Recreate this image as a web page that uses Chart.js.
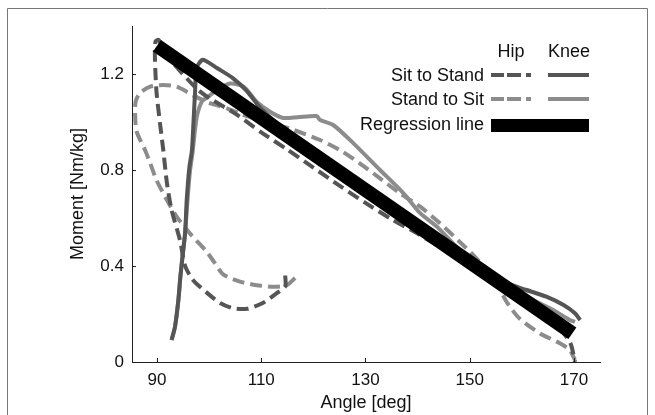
<!DOCTYPE html>
<html>
<head>
<meta charset="utf-8">
<script src="https://cdn.jsdelivr.net/npm/chart.js@4.4.1/dist/chart.umd.min.js"></script>
<style>
  html, body { margin: 0; padding: 0; background: #fff; }
  #wrap { position: relative; width: 655px; height: 415px; }
</style>
</head>
<body>
<div id="wrap"><canvas id="c" width="655" height="415"></canvas></div>
<script>
// ---- Data ----
const xTickValues = [90, 110, 130, 150, 170];
const yTickValues = [0, 0.4, 0.8, 1.2];
const yTickLabels = ["0", "0.4", "0.8", "1.2"];

const legendHeaders = ["Hip", "Knee"];
const legendRows = ["Sit to Stand", "Stand to Sit", "Regression line"];

// Hip, Sit to Stand (dark dashed)
const hipSitToStandAngle = [114.6, 114.6, 113.0, 110.3, 107.3, 104.6, 102.1, 99.6, 96.9, 95.4, 94.4, 92.8, 91.9, 91.2, 90.6, 89.9, 89.6, 89.7, 90.3, 91.2, 93.1, 96.0, 97.9, 100, 105, 110, 115, 120, 125, 130, 135, 140, 145, 150, 155, 160, 164, 167, 169.3, 170.2];
const hipSitToStandMoment = [0.36, 0.315, 0.287, 0.246, 0.222, 0.224, 0.246, 0.288, 0.342, 0.40, 0.508, 0.633, 0.746, 0.883, 0.99, 1.126, 1.267, 1.335, 1.342, 1.30, 1.246, 1.175, 1.133, 1.10, 1.035, 0.957, 0.885, 0.81, 0.735, 0.663, 0.595, 0.535, 0.47, 0.41, 0.335, 0.262, 0.2, 0.145, 0.08, 0.0];

// Knee, Sit to Stand (dark solid)
const kneeSitToStandAngle = [92.8, 93.45, 94.1, 94.5, 95.0, 95.4, 95.7, 96.2, 96.7, 97.0, 97.3, 97.6, 98.6, 99.3, 101.5, 104.6, 107.2, 110, 115, 120, 130, 140, 150, 153, 156.4, 160.9, 164.7, 168, 170.2, 171.2];
const kneeSitToStandMoment = [0.092, 0.147, 0.258, 0.36, 0.46, 0.54, 0.675, 0.81, 0.883, 1.0, 1.126, 1.225, 1.258, 1.255, 1.225, 1.182, 1.13, 1.055, 0.96, 0.88, 0.725, 0.575, 0.43, 0.385, 0.335, 0.30, 0.272, 0.2375, 0.203, 0.175];

// Hip, Stand to Sit (light dashed)
const hipStandToSitAngle = [116.5, 114.9, 112.3, 109.1, 105.9, 102.7, 101.0, 99.5, 96.3, 93.8, 91.9, 89.9, 88.7, 87.7, 86.1, 85.8, 85.9, 86.7, 88.7, 91.2, 93.8, 97.0, 100, 103.4, 106.5, 109.8, 113, 116.2, 121.3, 125.1, 128.9, 132.8, 136.6, 140.5, 144.3, 148.1, 150.7, 154.5, 157.1, 159.6, 163.5, 167.3, 169.2, 170.2];
const hipStandToSitMoment = [0.35, 0.32, 0.314, 0.32, 0.335, 0.365, 0.415, 0.46, 0.536, 0.605, 0.675, 0.758, 0.828, 0.883, 0.96, 1.03, 1.085, 1.12, 1.147, 1.154, 1.147, 1.11, 1.08, 1.057, 1.03, 1.008, 0.99, 0.967, 0.925, 0.883, 0.828, 0.765, 0.703, 0.647, 0.578, 0.50, 0.445, 0.355, 0.25, 0.18, 0.119, 0.078, 0.05, 0.008];

// Knee, Stand to Sit (light solid)
const kneeStandToSitAngle = [92.8, 93.45, 94.1, 94.5, 95.0, 95.4, 95.8, 96.3, 96.8, 97.6, 98.6, 99.8, 101.5, 104, 106.6, 109.1, 111.7, 114.2, 117, 120.6, 121.3, 123.8, 127.7, 132.8, 137.3, 140.5, 143.7, 147, 150, 154.5, 160.9, 166, 169.2, 170.2];
const kneeStandToSitMoment = [0.092, 0.147, 0.258, 0.36, 0.46, 0.54, 0.66, 0.79, 0.87, 1.017, 1.085, 1.105, 1.133, 1.16, 1.147, 1.085, 1.043, 1.017, 1.02, 1.025, 1.008, 0.9875, 0.911, 0.80, 0.703, 0.62, 0.564, 0.49, 0.425, 0.349, 0.272, 0.217, 0.175, 0.167];

// Regression line
const regressionAngle = [90, 169.7];
const regressionMoment = [1.318, 0.12];

// ---- Styles ----
const DARK = '#555555';
const LIGHT = '#8c8c8c';
const AXIS = '#222222';
const FONT = "'Liberation Sans', Arial, sans-serif";

function pts(xs, ys) { return xs.map((x, i) => ({ x: x, y: ys[i] })); }

const framePlugin = {
  id: 'frame',
  beforeDraw(chart) {
    const ctx = chart.ctx;
    ctx.save();
    ctx.fillStyle = '#fff';
    ctx.fillRect(0, 0, chart.width, chart.height);
    ctx.strokeStyle = '#777';
    ctx.lineWidth = 1;
    ctx.beginPath();
    ctx.moveTo(7.5, 420);
    ctx.lineTo(7.5, 8.5);
    ctx.lineTo(647.5, 8.5);
    ctx.lineTo(647.5, 420);
    ctx.stroke();
    ctx.restore();
  }
};

const innerTicksPlugin = {
  id: 'innerTicks',
  afterDraw(chart) {
    const ctx = chart.ctx;
    const xs = chart.scales.x, ys = chart.scales.y;
    const area = chart.chartArea;
    ctx.save();
    ctx.strokeStyle = AXIS;
    ctx.lineWidth = 1;
    ctx.beginPath();
    xTickValues.forEach(v => {
      const px = Math.round(xs.getPixelForValue(v)) + 0.5;
      ctx.moveTo(px, area.bottom);
      ctx.lineTo(px, area.bottom - 4);
    });
    yTickValues.forEach(v => {
      const py = Math.round(ys.getPixelForValue(v)) + 0.5;
      ctx.moveTo(area.left, py);
      ctx.lineTo(area.left + 4, py);
    });
    ctx.stroke();
    ctx.restore();
  }
};

const legendPlugin = {
  id: 'customLegend',
  afterDraw(chart) {
    const ctx = chart.ctx;
    ctx.save();
    ctx.fillStyle = '#111';
    ctx.font = "18px " + FONT;
    ctx.textBaseline = 'middle';
    ctx.textAlign = 'center';
    ctx.fillText(legendHeaders[0], 511, 52);
    ctx.fillText(legendHeaders[1], 569, 52);
    ctx.textAlign = 'right';
    ctx.fillText(legendRows[0], 484, 76);
    ctx.fillText(legendRows[1], 484, 100);
    ctx.fillText(legendRows[2], 484, 125);
    ctx.lineWidth = 4;
    // Sit to Stand
    ctx.strokeStyle = DARK;
    ctx.setLineDash([13, 3, 14, 5, 5, 100]);
    ctx.beginPath(); ctx.moveTo(491, 75); ctx.lineTo(532, 75); ctx.stroke();
    ctx.setLineDash([]);
    ctx.beginPath(); ctx.moveTo(548, 75); ctx.lineTo(589, 75); ctx.stroke();
    // Stand to Sit
    ctx.strokeStyle = LIGHT;
    ctx.setLineDash([13, 3, 14, 5, 5, 100]);
    ctx.beginPath(); ctx.moveTo(491, 99); ctx.lineTo(532, 99); ctx.stroke();
    ctx.setLineDash([]);
    ctx.beginPath(); ctx.moveTo(548, 99); ctx.lineTo(589, 99); ctx.stroke();
    // Regression
    ctx.fillStyle = '#000';
    ctx.fillRect(491, 119, 98, 13);
    ctx.restore();
  }
};

const common = { showLine: true, pointRadius: 0, pointHoverRadius: 0, fill: false, borderWidth: 4, tension: 0.25 };

new Chart(document.getElementById('c'), {
  type: 'scatter',
  data: {
    datasets: [
      Object.assign({}, common, { label: 'Regression line', data: pts(regressionAngle, regressionMoment), borderColor: '#000', borderWidth: 14, borderCapStyle: 'butt', tension: 0, order: 0 }),
      Object.assign({}, common, { label: 'Hip Sit to Stand', data: pts(hipSitToStandAngle, hipSitToStandMoment), borderColor: DARK, borderDash: [12, 6], order: 1 }),
      Object.assign({}, common, { label: 'Knee Sit to Stand', data: pts(kneeSitToStandAngle, kneeSitToStandMoment), borderColor: DARK, order: 2 }),
      Object.assign({}, common, { label: 'Hip Stand to Sit', data: pts(hipStandToSitAngle, hipStandToSitMoment), borderColor: LIGHT, borderDash: [12, 6], order: 3 }),
      Object.assign({}, common, { label: 'Knee Stand to Sit', data: pts(kneeStandToSitAngle, kneeStandToSitMoment), borderColor: LIGHT, order: 4 })
    ]
  },
  options: {
    responsive: false,
    animation: false,
    devicePixelRatio: 1,
    layout: { padding: { left: 60, top: 26, right: 55, bottom: 0 } },
    plugins: { legend: { display: false }, tooltip: { enabled: false } },
    scales: {
      x: {
        type: 'linear', min: 85.2, max: 175,
        afterBuildTicks: s => { s.ticks = xTickValues.map(v => ({ value: v })); },
        afterFit: s => { s.height = 53; },
        grid: { display: false, drawTicks: false },
        border: { display: true, color: AXIS, width: 1 },
        ticks: { padding: 8, color: '#111', font: { family: FONT, size: 17 }, maxRotation: 0, autoSkip: false },
        title: { display: true, text: 'Angle [deg]', color: '#111', font: { family: FONT, size: 18 }, padding: { top: 0, bottom: 1 } }
      },
      y: {
        type: 'linear', min: 0, max: 1.4,
        afterBuildTicks: s => { s.ticks = yTickValues.map(v => ({ value: v })); },
        afterFit: s => { s.width = 72; },
        grid: { display: false, drawTicks: false },
        border: { display: true, color: AXIS, width: 1 },
        ticks: { padding: 8, color: '#111', font: { family: FONT, size: 17 }, autoSkip: false,
          callback: (v) => { const i = yTickValues.indexOf(v); return i >= 0 ? yTickLabels[i] : ''; } },
        title: { display: true, text: 'Moment [Nm/kg]', color: '#111', font: { family: FONT, size: 18 }, padding: { top: 7, bottom: 0 } }
      }
    }
  },
  plugins: [framePlugin, innerTicksPlugin, legendPlugin]
});
</script>
</body>
</html>
